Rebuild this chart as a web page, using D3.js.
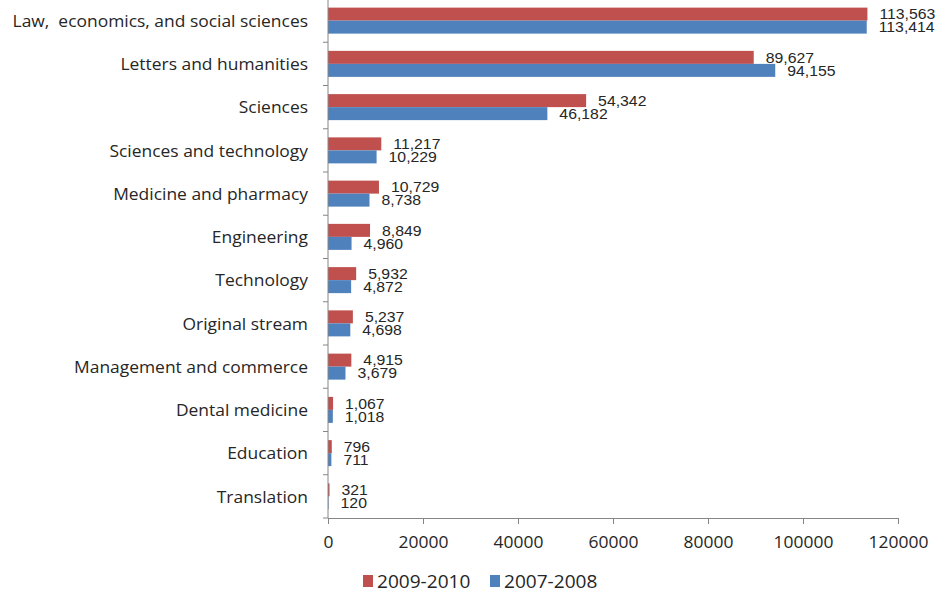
<!DOCTYPE html>
<html>
<head>
<meta charset="utf-8">
<script src="https://cdn.jsdelivr.net/npm/d3@7"></script>
<style>
  html, body { margin: 0; padding: 0; background: #fff; }
  svg { display: block; }
</style>
</head>
<body>
<svg id="chart" width="943" height="592"></svg>
<script>
// Enrolment by field of study, two academic years
const categories = [
  "Law,  economics, and social sciences",
  "Letters and humanities",
  "Sciences",
  "Sciences and technology",
  "Medicine and pharmacy",
  "Engineering",
  "Technology",
  "Original stream",
  "Management and commerce",
  "Dental medicine",
  "Education",
  "Translation"
];
const values2009 = [113563, 89627, 54342, 11217, 10729, 8849, 5932, 5237, 4915, 1067, 796, 321];
const values2007 = [113414, 94155, 46182, 10229, 8738, 4960, 4872, 4698, 3679, 1018, 711, 120];
const seriesNames = ["2009-2010", "2007-2008"];
const xTicks = [0, 20000, 40000, 60000, 80000, 100000, 120000];

const colors = { "2009-2010": "#C0504D", "2007-2008": "#4F81BD" };
const axisColor = "#868686";
const textColor = "#262626";
const labelFont = "'Open Sans', 'Noto Sans', sans-serif";
const valueFont = "'Liberation Sans', Arial, sans-serif";
const stretch = 1.09; // text is set slightly wide

const svg = d3.select("#chart");

const plotLeft = 328, plotRight = 898, plotTop = -1, plotBottom = 518;

const x = d3.scaleLinear().domain([0, 120000]).range([plotLeft, plotRight]);
const y = d3.scaleBand().domain(categories).range([plotTop, plotBottom]);

// Places a horizontally widened text at (px, py)
function wideText(parent, px, py, str, opts) {
  const g = parent.append("g").attr("transform", `translate(${px},${py}) scale(${stretch},1)`);
  return g.append("text")
    .attr("x", 0).attr("y", 0)
    .attr("text-anchor", opts.anchor || "start")
    .attr("dominant-baseline", "central")
    .attr("font-family", opts.font)
    .attr("font-size", opts.size)
    .attr("fill", textColor)
    .style("white-space", "pre")
    .text(str);
}

const barH = 13;
const series = [
  { name: seriesNames[0], values: values2009, offset: -barH },
  { name: seriesNames[1], values: values2007, offset: 0 }
];

// Bars and value labels
series.forEach(s => {
  const g = svg.append("g");
  const rows = categories.map((c, i) => ({ c, v: s.values[i] }));
  g.selectAll("rect").data(rows).join("rect")
    .attr("x", x(0))
    .attr("y", d => y(d.c) + y.bandwidth() / 2 + s.offset)
    .attr("width", d => x(d.v) - x(0))
    .attr("height", barH)
    .attr("fill", colors[s.name]);
  const lg = svg.append("g");
  rows.forEach(d => {
    wideText(lg, x(d.v) + 12, y(d.c) + y.bandwidth() / 2 + s.offset + barH / 2,
      d3.format(",")(d.v), { font: valueFont, size: 14.5 });
  });
});

// Horizontal value axis
const xAxis = svg.append("g")
  .attr("transform", `translate(0,${plotBottom})`)
  .call(d3.axisBottom(x).tickValues(xTicks).tickFormat(d3.format("d")).tickSize(6).tickSizeOuter(0));
xAxis.select(".domain").attr("stroke", axisColor);
xAxis.selectAll(".tick line").attr("stroke", axisColor);
xAxis.selectAll(".tick text")
  .attr("font-family", labelFont)
  .attr("font-size", 16)
  .attr("fill", textColor)
  .attr("dy", "1.3em")
  .attr("transform", `scale(${stretch},1)`);

// Vertical category axis, ticks at band boundaries
const yAxis = svg.append("g").attr("transform", `translate(${plotLeft},0)`);
yAxis.append("line")
  .attr("x1", 0).attr("x2", 0).attr("y1", plotTop).attr("y2", plotBottom)
  .attr("stroke", axisColor);
const bounds = categories.map(c => y(c)).concat([plotBottom]);
yAxis.selectAll("line.tk").data(bounds).join("line")
  .attr("class", "tk")
  .attr("x1", -5).attr("x2", 0)
  .attr("y1", d => d).attr("y2", d => d)
  .attr("stroke", axisColor);
categories.forEach(c => {
  wideText(yAxis, -20, y(c) + y.bandwidth() / 2, c, { font: labelFont, size: 16, anchor: "end" });
});

// Legend
const legend = svg.append("g").attr("transform", "translate(363,581)");
const legendX = [0, 127];
seriesNames.forEach((n, i) => {
  const lg = legend.append("g").attr("transform", `translate(${legendX[i]},0)`);
  lg.append("rect").attr("x", 0).attr("y", -6).attr("width", 10).attr("height", 12).attr("fill", colors[n]);
  wideText(lg, 14, 0, n, { font: labelFont, size: 17.5 });
});
</script>
</body>
</html>
